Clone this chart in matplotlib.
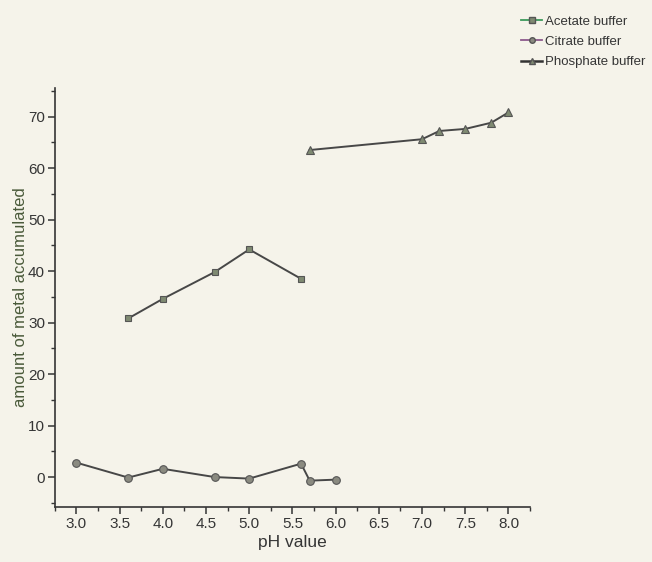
import matplotlib.pyplot as plt
from matplotlib.ticker import MultipleLocator

plt.rcParams['font.family'] = ['Liberation Sans', 'DejaVu Sans']

ph_acetate = [3.6, 4.0, 4.6, 5.0, 5.6]
acetate = [30.8, 34.6, 39.8, 44.2, 38.5]

ph_citrate = [3.0, 3.6, 4.0, 4.6, 5.0, 5.6, 5.7, 6.0]
citrate = [2.8, -0.1, 1.6, 0.0, -0.3, 2.6, -0.7, -0.5]

ph_phosphate = [5.7, 7.0, 7.2, 7.5, 7.8, 8.0]
phosphate = [63.5, 65.6, 67.2, 67.6, 68.8, 70.8]

bg = '#f5f3ea'
ink = '#353535'

fig = plt.figure(figsize=(6.52, 5.62), dpi=100, facecolor=bg)
ax = fig.add_axes([0.084, 0.098, 0.729, 0.745], facecolor=bg)

ax.plot(ph_acetate, acetate, '-', color='#474747', lw=1.4, marker='s', ms=5,
        mfc='#7f8a72', mec='#555555', mew=0.8)
ax.plot(ph_citrate, citrate, '-', color='#474747', lw=1.4, marker='o', ms=5.5,
        mfc='#8a8a80', mec='#555555', mew=0.8)
ax.plot(ph_phosphate, phosphate, '-', color='#474747', lw=1.4, marker='^', ms=6,
        mfc='#7f8a72', mec='#555555', mew=0.8)

# legend drawn with coloured lines as in the scan
h1, = ax.plot([], [], '-', color='#3d9a5c', lw=1.3, marker='s', ms=4,
              mfc='#7f8a72', mec='#555555')
h2, = ax.plot([], [], '-', color='#8c5a8c', lw=1.3, marker='o', ms=4,
              mfc='#8a8a80', mec='#555555')
h3, = ax.plot([], [], '-', color='#333333', lw=1.8, marker='^', ms=5,
              mfc='#7f8a72', mec='#555555')
leg = fig.legend([h1, h2, h3], ['Acetate buffer', 'Citrate buffer', 'Phosphate buffer'],
                 loc='upper right', bbox_to_anchor=(0.998, 0.982), frameon=False,
                 fontsize=9.5, handlelength=1.6, handletextpad=0.2, labelspacing=0.62,
                 borderaxespad=0.0)
for t in leg.get_texts():
    t.set_color(ink)

ax.set_xlim(2.75, 8.25)
ax.set_ylim(-5.8, 75.5)
ax.xaxis.set_major_locator(MultipleLocator(0.5))
ax.xaxis.set_minor_locator(MultipleLocator(0.25))
ax.yaxis.set_major_locator(MultipleLocator(10))
ax.yaxis.set_minor_locator(MultipleLocator(5))
ax.xaxis.set_major_formatter(plt.FormatStrFormatter('%.1f'))

for s in ['top', 'right']:
    ax.spines[s].set_visible(False)
for s in ['left', 'bottom']:
    ax.spines[s].set_color(ink)
    ax.spines[s].set_linewidth(1.2)

ax.tick_params(which='major', direction='out', length=5, width=1.1, color=ink,
               labelcolor=ink, labelsize=11, pad=2)
ax.tick_params(which='minor', direction='out', length=3, width=1.0, color=ink)

ax.set_xlabel('pH value', color=ink, fontsize=12.5, labelpad=3)
ax.set_ylabel('amount of metal accumulated', color='#4a5a3a', fontsize=12, labelpad=0)

fig.savefig('out.png', dpi=100, facecolor=bg)
